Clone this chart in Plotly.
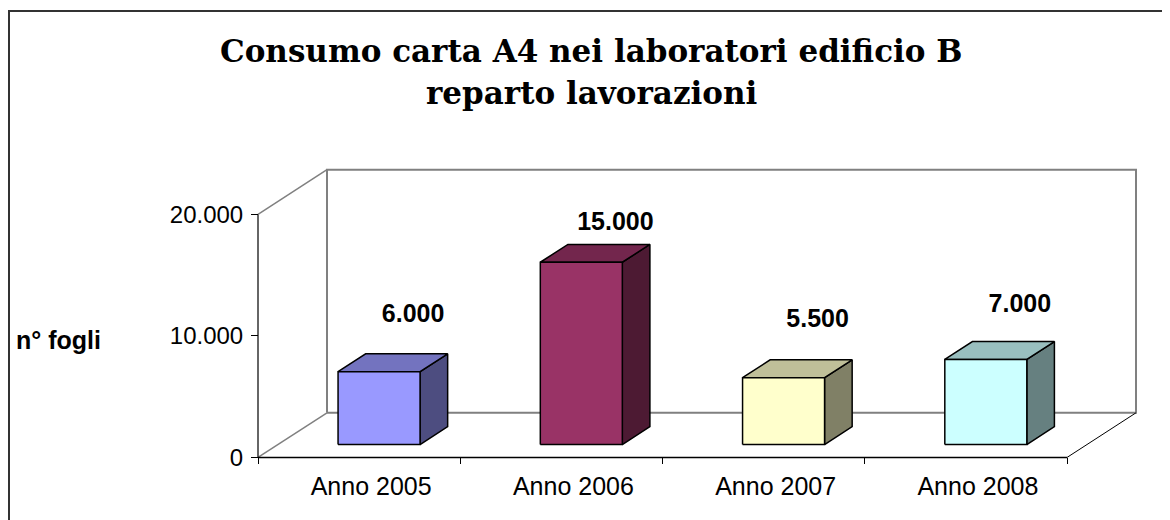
import plotly.graph_objects as go

# ---------------- data ----------------
categories = ["Anno 2005", "Anno 2006", "Anno 2007", "Anno 2008"]
values = [6000, 15000, 5500, 7000]
y_tick_vals = [0, 10000, 20000]
y_tick_text = ["0", "10.000", "20.000"]
title_line1 = "Consumo carta A4 nei laboratori edificio B"
title_line2 = "reparto lavorazioni"
y_title = "n° fogli"

front_colors = ["#9999FF", "#993366", "#FFFFCC", "#CCFFFF"]
top_colors = ["#7373BF", "#73264D", "#BFBF99", "#99BFBF"]
side_colors = ["#4D4D80", "#4D1A33", "#808066", "#668080"]

# ---------------- geometry (window pixels) ----------------
OFF = 8                      # page body margin
W, H = 1170 - OFF, 520 - OFF  # figure size
NUDGE = 4                    # vertical correction for plot area


def px(xp):
    return (xp - OFF) / W


def py(yp):
    return 1 - (yp - OFF) / H


X0_PX, X4_PX = 258, 1067          # front x-axis extent (category 0..4)
Y0_PX, Y20_PX = 457, 212          # front y-axis 0 and 20000
YMAX = 20000
n = len(categories)
PX_PER_X = (X4_PX - X0_PX) / n
PX_PER_Y = (Y0_PX - Y20_PX) / YMAX

DEPTH_DX_PX, DEPTH_DY_PX = 69, 45  # floor depth offset
DX = DEPTH_DX_PX / PX_PER_X
DY = DEPTH_DY_PX / PX_PER_Y
F0, F1 = 13 / 45, 31 / 45          # bar depth span (fraction of floor depth)
BAR_W = 82 / PX_PER_X

# plot area in window pixels
PA_L, PA_R, PA_T, PA_B = 246, 1150, 150, 466
x_range = [(PA_L - X0_PX) / PX_PER_X, (PA_R - X0_PX) / PX_PER_X]
y_range = [-(PA_B - Y0_PX) / PX_PER_Y, (Y0_PX - PA_T) / PX_PER_Y]

fig = go.Figure()


def line(xs, ys, color, width):
    fig.add_trace(go.Scatter(x=xs, y=ys, mode="lines",
                             line=dict(color=color, width=width),
                             hoverinfo="skip", showlegend=False))


# back wall & side wall (gray)
line([DX, DX, n + DX, n + DX, DX], [DY, YMAX + DY, YMAX + DY, DY, DY], "#808080", 2)
line([0, DX], [YMAX, YMAX + DY], "#808080", 1.5)
line([0, DX], [0, DY], "#808080", 1.5)
# right floor edge
line([n, n + DX], [0, DY], "#000000", 1)
# front axes
line([0, 0], [0, YMAX], "#333333", 1.5)
line([0, n], [0, 0], "#000000", 1.5)

# bars
bdx, bdy = (F1 - F0) * DX, (F1 - F0) * DY
for i, v in enumerate(values):
    x0 = i + 0.5 - BAR_W / 2 + F0 * DX
    x1 = x0 + BAR_W
    y0 = F0 * DY
    y1 = v + F0 * DY
    polys = [
        ([x1, x1 + bdx, x1 + bdx, x1, x1], [y0, y0 + bdy, y1 + bdy, y1, y0], side_colors[i]),
        ([x0, x1, x1 + bdx, x0 + bdx, x0], [y1, y1, y1 + bdy, y1 + bdy, y1], top_colors[i]),
        ([x0, x1, x1, x0, x0], [y0, y0, y1, y1, y0], front_colors[i]),
    ]
    for xs, ys, c in polys:
        fig.add_trace(go.Scatter(x=xs, y=ys, mode="lines", fill="toself",
                                 fillcolor=c, line=dict(color="#000000", width=1.5),
                                 hoverinfo="skip", showlegend=False))

# data labels
LABEL_DX = 54 / PX_PER_X
label_x = [i + 0.5 + LABEL_DX for i in range(n)]
label_y = [(Y0_PX - 376 + 0.0103 * v) / PX_PER_Y for v in values]
label_text = [f"{v:,}".replace(",", ".") for v in values]
fig.add_trace(go.Scatter(x=label_x, y=label_y, mode="text", text=label_text,
                         textposition="middle center",
                         textfont=dict(family="Liberation Sans, Arial", size=25, color="#000000"),
                         texttemplate="<b>%{text}</b>",
                         hoverinfo="skip", showlegend=False, cliponaxis=False))

CAT_SHIFT = 12 / PX_PER_X
fig.update_layout(
    width=W, height=H,
    margin=dict(l=0, r=0, t=0, b=0),
    paper_bgcolor="white", plot_bgcolor="rgba(0,0,0,0)",
    showlegend=False,
    xaxis=dict(
        domain=[px(PA_L), px(PA_R)], range=x_range,
        anchor="free", position=py(Y0_PX + NUDGE),
        showgrid=False, zeroline=False, showline=False,
        tickmode="array", tickvals=[i + 0.5 + CAT_SHIFT for i in range(n)],
        ticktext=categories, ticks="", ticklen=0,
        ticklabelstandoff=12,
        tickfont=dict(family="Liberation Sans, Arial", size=25, color="#000000"),
        minor=dict(tickmode="array", tickvals=list(range(n + 1)), ticks="outside",
                   ticklen=6, tickwidth=1, tickcolor="#000000", showgrid=False),
        fixedrange=True,
    ),
    yaxis=dict(
        domain=[py(PA_B + NUDGE), py(PA_T + NUDGE)], range=y_range,
        anchor="free", position=px(X0_PX),
        showgrid=False, zeroline=False, showline=False,
        tickmode="array", tickvals=y_tick_vals, ticktext=y_tick_text,
        ticks="outside", ticklen=7, tickwidth=1, tickcolor="#000000",
        ticklabelstandoff=3,
        tickfont=dict(family="Liberation Sans, Arial", size=24, color="#000000"),
        fixedrange=True,
    ),
    shapes=[dict(type="rect", xref="paper", yref="paper",
                 x0=px(9), x1=px(1167), y0=-0.1, y1=py(11),
                 line=dict(color="#333333", width=2), fillcolor="rgba(0,0,0,0)")],
    annotations=[
        dict(text=f"<b>{title_line1}</b>", xref="paper", yref="paper",
             x=px(591), y=py(51), xanchor="center", yanchor="middle", showarrow=False,
             font=dict(family="DejaVu Serif, serif", size=31, color="#000000")),
        dict(text=f"<b>{title_line2}</b>", xref="paper", yref="paper",
             x=px(591), y=py(94), xanchor="center", yanchor="middle", showarrow=False,
             font=dict(family="DejaVu Serif, serif", size=31, color="#000000")),
        dict(text=f"<b>{y_title}</b>", xref="paper", yref="paper",
             x=px(58), y=py(343), xanchor="center", yanchor="middle", showarrow=False,
             font=dict(family="Liberation Sans, Arial", size=25, color="#000000")),
    ],
)

fig.write_html("out.html")
